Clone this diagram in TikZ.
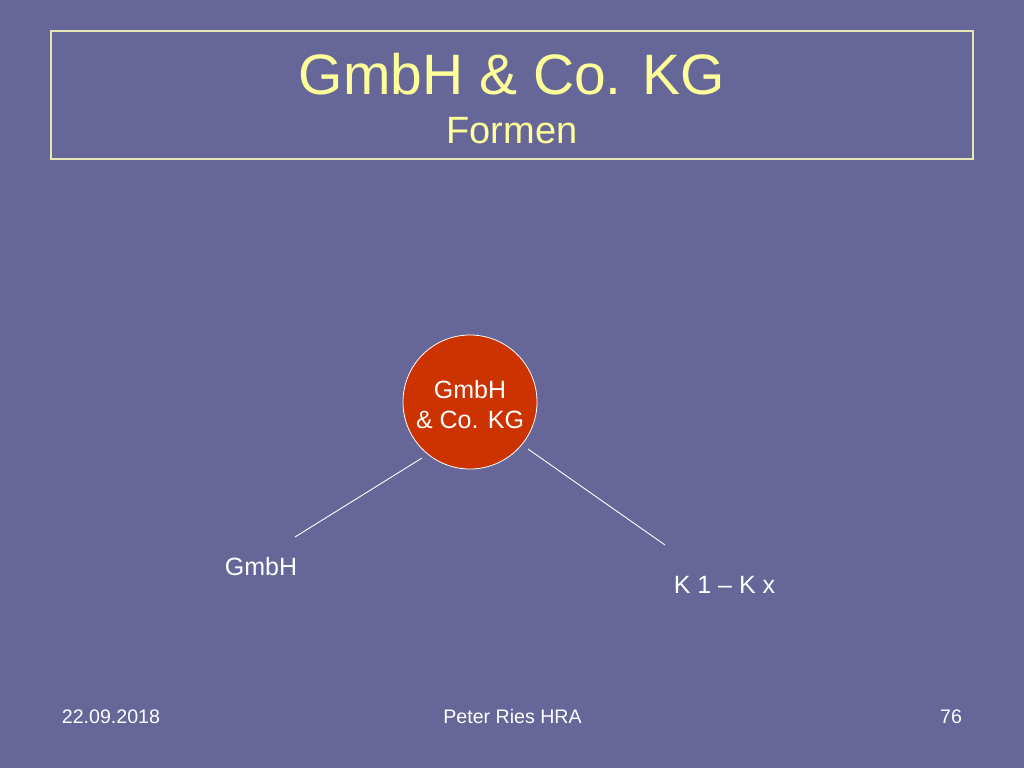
\documentclass[tikz,border=0pt]{standalone}
\usepackage{fontspec}
\setmainfont{Liberation Sans}
\definecolor{bg}{RGB}{102,102,153}
\definecolor{ttl}{RGB}{255,255,153}
\definecolor{frm}{RGB}{230,230,185}
\definecolor{redc}{RGB}{204,51,0}
\begin{document}
\begin{tikzpicture}[x=1pt,y=-1pt,
  lbl/.style={inner sep=0pt,anchor=base,text=white},
  conn/.style={draw=white,line width=0.9pt}]
\useasboundingbox (0,0) rectangle (1024,768);
\fill[bg] (0,0) rectangle (1024,768);
\draw[frm,line width=1.3pt] (51,31) rectangle (973,159);
\node[inner sep=0pt,anchor=base,text=ttl,font=\fontsize{57}{60}\selectfont] (title) at (512,94) {GmbH \& Co. KG};
\node[inner sep=0pt,anchor=base,text=ttl,font=\fontsize{38}{42}\selectfont] (sub) at (512,143) {Formen};
\node[circle,draw=white,line width=0.8pt,fill=redc,minimum size=134pt,inner sep=0pt] (c) at (470,402) {};
\node[lbl,font=\fontsize{25}{30}\selectfont] (c1) at (470,398) {GmbH};
\node[lbl,font=\fontsize{25}{30}\selectfont] (c2) at (470,428) {\& Co. KG};
\coordinate (l1) at (422,458);
\coordinate (l2) at (295,537);
\coordinate (r1) at (528,449);
\coordinate (r2) at (665,545);
\draw[conn] (l1) -- (l2);
\draw[conn] (r1) -- (r2);
\node[lbl,font=\fontsize{25}{30}\selectfont] (gmbh) at (261,575) {GmbH};
\node[lbl,font=\fontsize{25}{30}\selectfont] (kx) at (724.5,593) {K 1 – K x};
\node[lbl,font=\fontsize{19.6}{22}\selectfont] (date) at (111,723) {22.09.2018};
\node[lbl,font=\fontsize{19.6}{22}\selectfont] (auth) at (512.5,723) {Peter Ries HRA};
\node[lbl,font=\fontsize{19.6}{22}\selectfont] (num) at (951,723) {76};
\end{tikzpicture}
\end{document}
